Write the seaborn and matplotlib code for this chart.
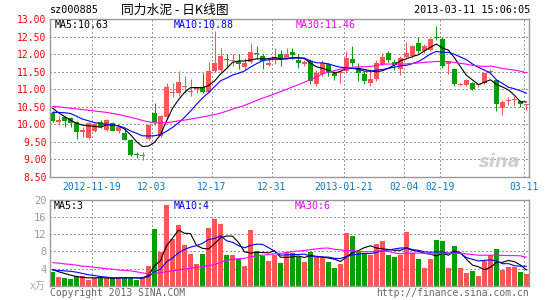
import numpy as np
import pandas as pd
import matplotlib
matplotlib.use("Agg")
import matplotlib.pyplot as plt
import seaborn as sns

# ---------------- data ----------------
opens = [10.32, 10.07, 10.21, 10.18, 10.08, 9.78, 9.61, 9.82, 10.06, 9.84,
         10.05, 9.80, 9.75, 9.54, 9.14, 9.09, 9.57, 10.31, 9.68, 10.20,
         10.90, 10.88, 11.07, 10.92, 11.00, 11.07, 10.91, 11.52, 11.54, 11.84,
         11.79, 11.80, 11.63, 11.77, 12.04, 11.94, 11.69, 11.82, 11.99, 11.88,
         12.06, 11.83, 11.71, 11.80, 11.16, 11.42, 11.71, 11.47, 11.45, 11.52,
         11.85, 11.57, 11.42, 11.19, 11.28, 11.73, 12.04, 11.77, 11.57, 11.92,
         11.94, 12.32, 12.08, 12.13, 12.49, 12.44, 11.71, 11.57, 11.13, 11.11,
         11.19, 11.11, 11.17, 11.49, 11.25, 10.46, 10.67, 10.68, 10.67, 10.55]
highs = [10.38, 10.23, 10.23, 10.22, 10.10, 9.93, 10.06, 10.04, 10.13, 10.14,
         10.06, 9.93, 9.90, 9.57, 9.21, 9.21, 10.01, 10.62, 10.26, 11.18,
         11.18, 11.52, 11.38, 11.28, 11.07, 11.47, 11.77, 12.65, 12.18, 11.99,
         12.00, 12.01, 11.88, 12.32, 12.23, 12.01, 11.90, 12.18, 12.13, 12.18,
         12.18, 11.99, 11.82, 11.85, 11.54, 11.82, 11.75, 11.52, 11.54, 12.08,
         12.23, 11.75, 11.52, 11.57, 11.82, 12.04, 12.10, 11.85, 11.94, 12.34,
         12.26, 12.50, 12.28, 12.45, 12.79, 12.49, 11.80, 11.61, 11.19, 11.28,
         11.21, 11.16, 11.47, 11.57, 11.27, 10.69, 10.78, 10.80, 10.69, 10.59]
lows = [10.06, 9.98, 9.93, 9.93, 9.58, 9.63, 9.58, 9.79, 9.90, 9.82,
        9.82, 9.75, 9.55, 9.09, 9.04, 8.99, 9.54, 9.99, 9.63, 10.15,
        10.78, 10.81, 10.88, 10.81, 10.90, 10.88, 10.88, 11.50, 11.47, 11.61,
        11.66, 11.59, 11.54, 11.75, 11.85, 11.57, 11.66, 11.73, 11.66, 11.85,
        11.85, 11.61, 11.66, 11.14, 11.09, 11.38, 11.38, 11.25, 11.19, 11.47,
        11.66, 11.24, 11.14, 11.09, 11.24, 11.69, 11.78, 11.54, 11.41, 11.85,
        11.90, 12.04, 12.04, 12.10, 12.39, 11.61, 11.44, 11.08, 11.10, 11.09,
        10.99, 11.05, 11.14, 11.42, 10.37, 10.26, 10.56, 10.56, 10.48, 10.41]
closes = [10.09, 10.13, 10.10, 10.05, 9.78, 9.84, 10.03, 10.01, 9.93, 10.11,
          9.82, 9.91, 9.55, 9.14, 9.12, 9.11, 9.99, 10.07, 10.25, 11.05,
          10.93, 11.21, 11.10, 10.94, 11.05, 10.91, 11.52, 11.74, 11.94, 11.82,
          11.81, 11.71, 11.75, 12.07, 11.99, 11.80, 11.75, 11.92, 11.88, 11.99,
          11.97, 11.75, 11.77, 11.24, 11.47, 11.75, 11.47, 11.38, 11.47, 11.90,
          11.75, 11.47, 11.22, 11.28, 11.75, 11.92, 11.82, 11.68, 11.90, 12.02,
          12.23, 12.08, 12.23, 12.42, 12.47, 11.66, 11.78, 11.14, 11.15, 11.25,
          11.00, 11.13, 11.45, 11.52, 10.58, 10.65, 10.69, 10.70, 10.58, 10.57]
volumes = [3.3, 2.1, 1.8, 1.6, 2.2, 2.3, 1.5, 1.8, 1.9, 1.9,
           1.9, 1.9, 1.9, 2.1, 1.5, 2.1, 4.6, 13.2, 7.9, 18.7,
           10.8, 14.1, 9.5, 7.4, 5.1, 7.4, 13.4, 15.5, 14.3, 7.2,
           7.2, 6.2, 4.6, 12.9, 8.0, 7.0, 5.8, 7.2, 5.3, 7.8,
           7.6, 6.7, 5.5, 7.8, 6.7, 6.8, 5.5, 4.2, 5.1, 12.2,
           11.5, 8.0, 7.6, 7.2, 9.7, 10.5, 7.2, 6.7, 7.2, 12.5,
           7.6, 6.2, 4.2, 6.2, 10.6, 10.4, 4.2, 9.2, 4.2, 3.0,
           3.5, 2.3, 5.8, 7.1, 8.5, 3.7, 4.4, 4.4, 3.2, 2.8]

# moving-average values at the left edge (window reaches before the first candle)
ma5_head = [10.46, 10.33, 10.22, 10.12]
ma10_head = [10.34, 10.34, 10.33, 10.31, 10.23, 10.15, 10.10, 10.05, 10.02]
ma30_head = [10.51, 10.50, 10.48, 10.46, 10.44, 10.42, 10.40, 10.38, 10.36, 10.34,
             10.31, 10.28, 10.24, 10.20, 10.16, 10.11, 10.07, 10.04, 10.04, 10.05,
             10.07, 10.10, 10.12, 10.15, 10.18, 10.21, 10.24, 10.28, 10.32]
vma5_head = [3.8, 3.3, 2.9, 2.5]
vma10_head = [3.7, 3.6, 3.5, 3.4, 3.2, 2.9, 2.6, 2.4, 2.2]
vma30_head = [5.4, 5.3, 5.1, 5.0, 4.8, 4.6, 4.5, 4.3, 4.2, 4.0,
              3.9, 3.7, 3.6, 3.5, 3.3, 3.0, 2.9, 2.9, 3.1, 3.3,
              3.5, 3.7, 3.9, 4.1, 4.3, 4.5, 4.7, 5.0, 5.4]

tick_labels = ["2012-11-19", "12-03", "12-17", "12-31", "2013-01-21", "02-04", "02-19", "03-11"]
tick_index = [7, 17, 27, 37, 49, 59, 65, 79]
price_ticks = [8.5, 9.0, 9.5, 10.0, 10.5, 11.0, 11.5, 12.0, 12.5, 13.0]
vol_ticks = [4, 8, 12, 16, 20]

title_code = "sz000885"
title_name = "同力水泥 - 日K线图"
title_time = "2013-03-11 15:06:05"
ma_labels = ["MA5:10.63", "MA10:10.88", "MA30:11.46"]
vma_labels = ["MA5:3", "MA10:4", "MA30:6"]

# ---------------- build frame ----------------
df = pd.DataFrame({"open": opens, "high": highs, "low": lows, "close": closes, "vol": volumes})
df["x"] = np.arange(len(df))
df["dir"] = np.where(df["close"] >= df["open"], "up", "down")


def moving(series, n, head):
    m = series.rolling(n).mean()
    m.iloc[:len(head)] = head
    return m


df["ma5"] = moving(df["close"], 5, ma5_head)
df["ma10"] = moving(df["close"], 10, ma10_head)
df["ma30"] = moving(df["close"], 30, ma30_head)
df["vma5"] = moving(df["vol"], 5, vma5_head)
df["vma10"] = moving(df["vol"], 10, vma10_head)
df["vma30"] = moving(df["vol"], 30, vma30_head)

# ---------------- style ----------------
sns.set_style("white")
plt.rcParams["font.family"] = ["DejaVu Sans Mono", "Noto Sans CJK SC"]

RED = "#ff5555"
GREEN = "#00a000"
palette = {"up": RED, "down": GREEN}
GRID = "#9a9a9a"
FRAME = "#999999"
DOTS = (0, (1, 2))

W, H = 545, 300
fig = plt.figure(figsize=(W / 100, H / 100), dpi=100)
fig.patch.set_facecolor("white")


def fx(px):
    return px / W


def fy(py):
    return 1 - py / H


ax = fig.add_axes([fx(50), fy(177), fx(529) - fx(50), fy(19) - fy(177)])
axv = fig.add_axes([fx(50), fy(286), fx(529) - fx(50), fy(199.5) - fy(286)])

xlim = (-0.42, len(df) - 1 + 0.42)
grid_x = [i - 0.42 for i in tick_index]

# ---- candles ----
cols = df["dir"].map(palette).values
ax.vlines(df["x"], df["low"], df["high"], colors=cols, lw=0.75, zorder=3)
body_lo = np.minimum(df["open"], df["close"])
body_h = np.maximum((df["close"] - df["open"]).abs(), 0.03)
ax.bar(df["x"], body_h, bottom=body_lo, width=0.84, color=cols, linewidth=0, zorder=4)

for col, c in zip(["ma5", "ma10", "ma30"], ["black", "#0000ff", "#ff00ff"]):
    sns.lineplot(data=df, x="x", y=col, ax=ax, color=c, lw=0.8, zorder=5)

ax.set_xlim(*xlim)
ax.set_ylim(8.5, 13.0)
ax.set_yticks(price_ticks)
ax.set_yticklabels([f"{v:.2f}" for v in price_ticks])
ax.set_xticks(grid_x)
ax.set_xticklabels(tick_labels)
ax.tick_params(axis="y", length=0, pad=2.5, labelcolor="#ff0000", labelsize=7)
ax.tick_params(axis="x", length=0, pad=3.5, labelcolor="#0a78cc", labelsize=7)
ax.set_xlabel("")
ax.set_ylabel("")

# ---- volume ----
sns.barplot(data=df, x="x", y="vol", hue="dir", palette=palette, dodge=False,
            width=0.84, saturation=1, native_scale=True, legend=False, ax=axv,
            linewidth=0, zorder=3)
for col, c in zip(["vma5", "vma10", "vma30"], ["black", "#0000ff", "#ff00ff"]):
    sns.lineplot(data=df, x="x", y=col, ax=axv, color=c, lw=0.8, zorder=5)
axv.set_xlim(*xlim)
axv.set_ylim(0, 20)
axv.set_yticks(vol_ticks)
axv.set_yticklabels([str(v) for v in vol_ticks])
axv.set_xticks(grid_x)
axv.set_xticklabels([])
axv.tick_params(axis="y", length=0, pad=2.5, labelcolor="#999999", labelsize=7.5)
axv.tick_params(axis="x", length=0)
axv.set_xlabel("")
axv.set_ylabel("")

for a in (ax, axv):
    a.grid(False)
    for s in a.spines.values():
        s.set_color(FRAME)
        s.set_linewidth(1)
        s.set_visible(True)
        s.set_zorder(6)

# ---- dotted grid lines, drawn last (lowest-z marks are drawn under bars) ----
for a, ys in ((ax, price_ticks[1:-1]), (axv, vol_ticks[:-1])):
    lo, hi = a.get_xlim()
    a.hlines(ys, lo, hi, colors=GRID, linewidths=1.0, linestyles=[DOTS],
             zorder=2, antialiased=False)
    ylo, yhi = a.get_ylim()
    a.vlines(grid_x, ylo, yhi, colors=GRID, linewidths=1.0, linestyles=[DOTS],
             zorder=2, antialiased=False)
    a.set_xlim(lo, hi)
    a.set_ylim(ylo, yhi)

# ---- texts ----
fig.text(fx(50), fy(10), title_code, fontsize=7.3, va="center", ha="left", color="black")
fig.text(fx(121), fy(10), title_name, fontsize=9.2, va="center", ha="left", color="black",
         family=["Noto Sans CJK SC", "DejaVu Sans"])
fig.text(fx(530), fy(10), title_time, fontsize=7.3, va="center", ha="right", color="black")

for lbl, x0, c in zip(ma_labels, [55, 174, 296], ["black", "#0000ff", "#ff00ff"]):
    fig.text(fx(x0), fy(25), lbl, fontsize=7.2, va="center", ha="left", color=c)
for lbl, x0, c in zip(vma_labels, [54, 174, 295], ["black", "#0000ff", "#ff00ff"]):
    fig.text(fx(x0), fy(206), lbl, fontsize=7.2, va="center", ha="left", color=c)

fig.text(fx(45), fy(286), "x万", fontsize=7, va="center", ha="right", color="#aaaaaa",
         family=["DejaVu Sans Mono", "Noto Sans CJK SC"])
fig.text(fx(50), fy(293), "Copyright 2013 SINA.COM", fontsize=7, va="center", ha="left", color="#666666")
fig.text(fx(529), fy(293), "http://finance.sina.com.cn", fontsize=7, va="center", ha="right", color="#666666")
fig.text(fx(500), fy(162), "sina", fontsize=13, va="center", ha="center", color="#d0d0d0",
         style="italic", weight="bold", family=["DejaVu Sans"])

fig.savefig("out.png", dpi=100, facecolor="white")
